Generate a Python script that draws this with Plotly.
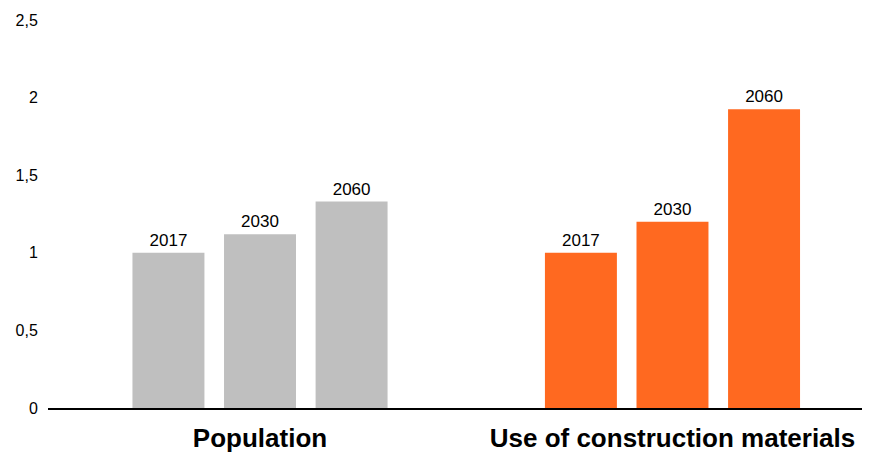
import plotly.graph_objects as go

categories = ["Population", "Use of construction materials"]
years = ["2017", "2030", "2060"]
values = {
    "2017": [1.0, 1.0],
    "2030": [1.12, 1.2],
    "2060": [1.33, 1.925],
}
colors = ["#BFBFBF", "#FF6920"]
y_ticks = [0, 0.5, 1, 1.5, 2, 2.5]

fig = go.Figure()
for yr in years:
    fig.add_trace(go.Bar(
        x=categories, y=values[yr], name=yr,
        marker=dict(color=colors, line=dict(width=0)),
        text=[yr] * len(categories), textposition="outside",
        textfont=dict(family="Liberation Sans, Arial", size=17, color="#000"),
        cliponaxis=False,
    ))

fig.update_layout(
    width=862, height=445,
    margin=dict(l=40, r=2, t=11.5, b=45.3),
    paper_bgcolor="white", plot_bgcolor="white",
    barmode="group", bargap=0.334, bargroupgap=0.214,
    showlegend=False,
    separators=", ",
    font=dict(family="Liberation Sans, Arial", size=16, color="#000"),
    xaxis=dict(
        range=[-0.514, 1.474], showline=True, linecolor="#000", linewidth=1.5,
        showgrid=False, ticks="outside", ticklen=6, tickcolor="rgba(0,0,0,0)",
        tickfont=dict(family="Liberation Sans, Arial", size=26, color="#000"),
        tickprefix="<b>", ticksuffix="</b>", automargin=False,
    ),
    yaxis=dict(
        range=[0, 2.5], tickvals=y_ticks, showgrid=False, zeroline=False,
        showline=False, ticks="outside", ticklen=6, tickcolor="rgba(0,0,0,0)",
        tickfont=dict(size=16, color="#000"), tickformat=".1~f", automargin=False,
    ),
)
fig.write_html("out.html")
